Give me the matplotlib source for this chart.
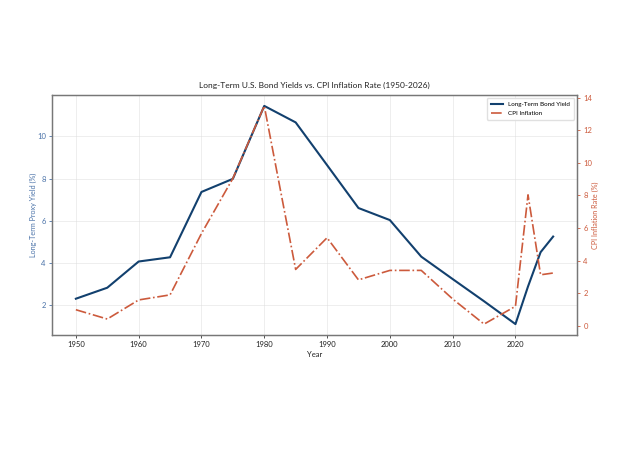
import matplotlib
matplotlib.use("Agg")
import matplotlib.pyplot as plt

plt.rcParams['font.family'] = ['Lato', 'DejaVu Sans']

years = [1950, 1955, 1960, 1965, 1970, 1975, 1980, 1985, 1990, 1995,
         2000, 2005, 2010, 2015, 2020, 2022, 2024, 2026]
bond_yield = [2.32, 2.84, 4.08, 4.28, 7.37, 7.99, 11.44, 10.66, 8.64, 6.61,
              6.04, 4.31, 3.25, 2.2, 1.12, 2.9, 4.52, 5.26]
cpi = [1.0, 0.43, 1.6, 1.91, 5.67, 9.05, 13.49, 3.47, 5.41, 2.83,
       3.41, 3.41, 1.66, 0.12, 1.21, 8.04, 3.14, 3.25]

blue = '#12406e'
red = '#cc5a3c'
lblue = '#4a72a8'

fig = plt.figure(figsize=(6.21, 4.66), dpi=100)
ax = fig.add_axes([52/621, 1-335/466, (577-52)/621, (335-95)/466])
ax2 = ax.twinx()

l1, = ax.plot(years, bond_yield, color=blue, lw=1.5, label='Long-Term Bond Yield')
l2, = ax2.plot(years, cpi, color=red, lw=1.2, ls='-.', label='CPI Inflation')

ax.set_yticks([2, 4, 6, 8, 10])
ax2.set_yticks([0, 2, 4, 6, 8, 10, 12, 14])
ax.set_xticks([1950, 1960, 1970, 1980, 1990, 2000, 2010, 2020])

ax.grid(True, color='#dddddd', lw=0.5, alpha=0.7)
for a in (ax, ax2):
    for s in a.spines.values():
        s.set_color('#777777')
        s.set_linewidth(0.9)
ax.tick_params(axis='x', labelsize=5.5, colors='#333333', length=2.5, width=0.6, pad=2)
ax.tick_params(axis='y', labelsize=5.5, colors=lblue, length=2.5, width=0.6, pad=2)
ax2.tick_params(axis='y', labelsize=5.5, colors=red, length=2.5, width=0.6, pad=2)
for t in ax.get_xticklabels():
    t.set_color('#222222')

ax.set_xlabel('Year', fontsize=5.5, color='#222222', labelpad=2)
ax.set_ylabel('Long-Term Proxy Yield (%)', fontsize=5.2, color=lblue, labelpad=0)
ax2.set_ylabel('CPI Inflation Rate (%)', fontsize=5.2, color=red, labelpad=0)
ax.set_title('Long-Term U.S. Bond Yields vs. CPI Inflation Rate (1950-2026)',
             fontsize=6, color='#222222', pad=5)

ax2.legend([l1, l2], ['Long-Term Bond Yield', 'CPI Inflation'], loc='upper right',
           fontsize=4.5, frameon=True, framealpha=0.9, edgecolor='#dddddd',
           handlelength=2, borderpad=0.6, fancybox=True)

fig.savefig('out.png', dpi=100, facecolor='white')
